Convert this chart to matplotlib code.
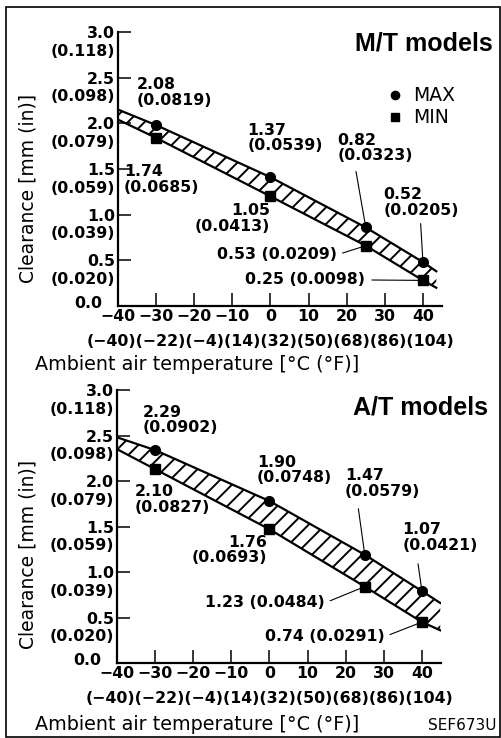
import matplotlib
matplotlib.use('Agg')
import matplotlib.pyplot as plt
from matplotlib.transforms import blended_transform_factory
from matplotlib.patches import Rectangle

# temperatures of the MAX / MIN points [deg C]
temps = [-30, 0, 25, 40]
temp_ticks = [-40, -30, -20, -10, 0, 10, 20, 30, 40]
temp_tick_labels = ['−40', '−30', '−20', '−10', '0', '10', '20', '30', '40']
temp_f_row = '(−40)(−22)(−4)(14)(32)(50)(68)(86)(104)'
mm_ticks = [0.0, 0.5, 1.0, 1.5, 2.0, 2.5, 3.0]
mm_tick_labels = ['', '0.5', '1.0', '1.5', '2.0', '2.5', '3.0']   # 0.0 drawn by hand
in_tick_labels = ['', '(0.020)', '(0.039)', '(0.059)', '(0.079)', '(0.098)', '(0.118)']

# M/T models (points where they are drawn)
mt_max = [1.98, 1.41, 0.86, 0.48]
mt_min = [1.84, 1.20, 0.66, 0.28]
mt_band_x = [-40, 43.5]          # where the hatched band starts / ends
mt_band_max = [2.15, 0.38]
mt_band_min = [2.04, 0.20]
mt_max_labels = ['2.08\n(0.0819)', '1.37\n(0.0539)', '0.82\n(0.0323)', '0.52\n(0.0205)']
mt_min_labels = ['1.74\n(0.0685)', '1.05\n(0.0413)', '0.53 (0.0209)', '0.25 (0.0098)']

# A/T models
at_max = [2.34, 1.78, 1.19, 0.79]
at_min = [2.13, 1.47, 0.84, 0.45]
at_band_x = [-40, 44.8]
at_band_max = [2.48, 0.66]
at_band_min = [2.35, 0.36]
at_max_labels = ['2.29\n(0.0902)', '1.90\n(0.0748)', '1.47\n(0.0579)', '1.07\n(0.0421)']
at_min_labels = ['2.10\n(0.0827)', '1.76\n(0.0693)', '1.23 (0.0484)', '0.74 (0.0291)']

# label placement: (x, y, ha, leader relpos or None, shrinkA)
mt_max_pos = [(-35.0, 2.34, 'left', None, 0), (-6.1, 1.84, 'left', None, 0),
              (17.5, 1.73, 'left', (0.23, 0), 4), (29.6, 1.13, 'left', (0.49, 0), 2)]
mt_min_pos = [(-38.4, 1.385, 'left', None, 0), (0.0, 0.96, 'right', None, 0),
              (-14.0, 0.56, 'left', (1, 0.5), 2), (-6.7, 0.285, 'left', (1, 0.5), 3)]
at_max_pos = [(-33.2, 2.67, 'left', None, 0), (-3.3, 2.12, 'left', None, 0),
              (19.8, 1.97, 'left', (0.16, 0), 5), (34.8, 1.38, 'left', (0.19, 0), 6)]
at_min_pos = [(-35.3, 1.80, 'left', None, 0), (-0.6, 1.24, 'right', None, 0),
              (-16.9, 0.66, 'left', (1, 0.5), 2), (-1.2, 0.29, 'left', (1, 0.5), 2)]

plt.rcParams['font.family'] = 'DejaVu Sans'
plt.rcParams['hatch.linewidth'] = 1.4

BOLD = dict(fontsize=11.3, fontweight='bold')


def draw_panel(ax, vmax, vmin, band_x, band_max, band_min, max_labels, min_labels,
               max_pos, min_pos):
    bx = [band_x[0]] + temps + [band_x[1]]
    bmax = [band_max[0]] + vmax + [band_max[1]]
    bmin = [band_min[0]] + vmin + [band_min[1]]
    ax.fill_between(bx, bmin, bmax, facecolor='none', edgecolor='black', hatch='//', linewidth=0)
    ax.plot(bx, bmax, color='black', lw=1.6)
    ax.plot(bx, bmin, color='black', lw=1.6)
    ax.plot(temps, vmax, 'o', color='black', ms=7, label='MAX')
    ax.plot(temps, vmin, 's', color='black', ms=6.5, label='MIN')

    for t, v, lab, (x, y, ha, rel, sh) in zip(temps + temps, vmax + vmin,
                                             max_labels + min_labels, max_pos + min_pos):
        if rel is None:
            ax.text(x, y, lab, ha=ha, va='center', linespacing=1.05, **BOLD)
        else:
            ax.annotate(lab, xy=(t, v), xytext=(x, y), ha=ha, va='center', linespacing=1.05,
                        arrowprops=dict(arrowstyle='-', lw=0.8, color='black', relpos=rel,
                                        shrinkA=sh, shrinkB=2), **BOLD)

    ax.set_xlim(-40, 45)
    ax.set_ylim(0, 3.0)
    ax.spines['top'].set_visible(False)
    ax.spines['right'].set_visible(False)
    for s in ['left', 'bottom']:
        ax.spines[s].set_linewidth(1.6)
    ax.set_xticks(temp_ticks)
    ax.set_xticklabels(temp_tick_labels, **BOLD)
    ax.set_yticks(mm_ticks)
    ax.set_yticklabels(mm_tick_labels, **BOLD)
    ax.tick_params(direction='in', length=9.5, width=1.1, pad=2)

    tr = blended_transform_factory(ax.transAxes, ax.transData)
    for m, lab in zip(mm_ticks, in_tick_labels):
        ax.text(-0.009, m - 0.21, lab, transform=tr, ha='right', va='center', **BOLD)
    # 0.0 sits a little left of the other tick labels, next to the -40 label
    ax.text(-0.05, 0.03, '0.0', transform=tr, ha='right', va='center', **BOLD)
    ax.text(0.47, -0.13, temp_f_row, transform=ax.transAxes, ha='center', va='center', **BOLD)


fig = plt.figure(figsize=(5.02, 7.38), dpi=100)
ax1 = fig.add_axes([0.2351, 0.5854, 0.6454, 0.3713])
ax2 = fig.add_axes([0.2331, 0.1016, 0.6454, 0.3699])

draw_panel(ax1, mt_max, mt_min, mt_band_x, mt_band_max, mt_band_min,
           mt_max_labels, mt_min_labels, mt_max_pos, mt_min_pos)
draw_panel(ax2, at_max, at_min, at_band_x, at_band_max, at_band_min,
           at_max_labels, at_min_labels, at_max_pos, at_min_pos)

ax1.legend(loc='upper left', bbox_to_anchor=(0.798, 0.836), frameon=False, borderpad=0,
           handlelength=1.0, handletextpad=0.45, labelspacing=0.15, markerscale=0.85,
           prop=dict(size=13.5))

fig.text(0.982, 0.9417, 'M/T models', family='Liberation Sans', fontweight='bold',
         fontsize=18, ha='right', va='center')
fig.text(0.972, 0.4485, 'A/T models', family='Liberation Sans', fontweight='bold',
         fontsize=18, ha='right', va='center')

for yc in [0.744, 0.249]:
    fig.text(0.056, yc, 'Clearance [mm (in)]', rotation=90, fontsize=13.5,
             ha='center', va='center')
for yc in [1 - 364 / 738, 1 - 725 / 738]:
    fig.text(0.07, yc, 'Ambient air temperature [°C (°F)]', fontsize=13.8,
             ha='left', va='center')
fig.text(0.99, 1 - 726 / 738, 'SEF673U', fontsize=11, ha='right', va='center')

fig.add_artist(Rectangle((0.012, 0.001), 0.984, 0.989, transform=fig.transFigure,
                         fill=False, lw=1.2, color='black'))

fig.savefig('out.png', dpi=100)
